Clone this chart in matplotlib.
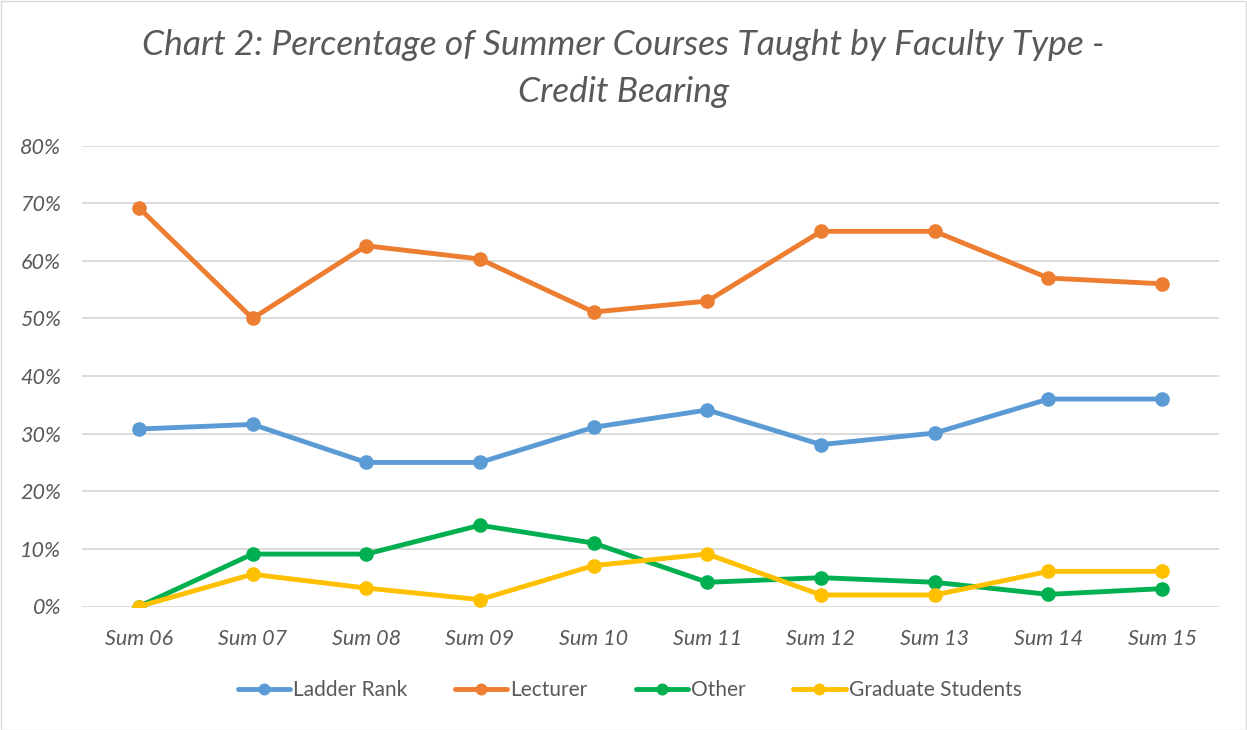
import matplotlib.pyplot as plt
from matplotlib.patches import Rectangle
from matplotlib.ticker import PercentFormatter

terms = ["Sum 06", "Sum 07", "Sum 08", "Sum 09", "Sum 10",
         "Sum 11", "Sum 12", "Sum 13", "Sum 14", "Sum 15"]
ladder_rank = [30.8, 31.6, 25.0, 25.0, 31.1, 34.1, 28.1, 30.1, 36.0, 36.0]
lecturer = [69.2, 50.0, 62.6, 60.3, 51.1, 53.0, 65.1, 65.1, 57.0, 56.0]
other = [0.0, 9.1, 9.1, 14.1, 11.0, 4.2, 5.0, 4.2, 2.1, 3.1]
grad_students = [0.0, 5.6, 3.2, 1.2, 7.1, 9.1, 2.0, 2.0, 6.1, 6.1]

series = [
    ("Ladder Rank", ladder_rank, "#5B9BD5"),
    ("Lecturer", lecturer, "#ED7D31"),
    ("Other", other, "#00B050"),
    ("Graduate Students", grad_students, "#FFC000"),
]

text_color = "#595959"
plt.rcParams["font.family"] = ["Lato", "DejaVu Sans"]

fig = plt.figure(figsize=(12.47, 7.30), dpi=100)
ax = fig.add_axes([82 / 1247, 1 - 606.5 / 730, (1219 - 82) / 1247, (606.5 - 145.5) / 730])

x = range(len(terms))
for name, values, color in series:
    ax.plot(x, [v / 100 for v in values], color=color, linewidth=3.5,
            marker="o", markersize=9.5, label=name, solid_capstyle="round")

ax.set_xlim(-0.5, len(terms) - 0.5)
ax.set_ylim(0, 0.8)
ax.set_yticks([i / 10 for i in range(9)])
ax.yaxis.set_major_formatter(PercentFormatter(1.0, decimals=0))
ax.set_xticks(list(x))
ax.set_xticklabels(terms)
ax.grid(axis="y", color="#D9D9D9", linewidth=1.3)
ax.set_axisbelow(True)
for spine in ax.spines.values():
    spine.set_visible(False)
ax.tick_params(length=0, labelsize=15.5, labelcolor=text_color)
ax.tick_params(axis="x", pad=16)
ax.tick_params(axis="y", pad=15)
for lab in ax.get_xticklabels() + ax.get_yticklabels():
    lab.set_fontstyle("italic")

fig.text(0.5, 1 - 45 / 730, "Chart 2: Percentage of Summer Courses Taught by Faculty Type -",
         ha="center", va="center", fontsize=25.5, style="italic", color=text_color)
fig.text(0.5, 1 - 92 / 730, "Credit Bearing",
         ha="center", va="center", fontsize=25.5, style="italic", color=text_color)

fig.legend(loc="center", bbox_to_anchor=(0.505, 1 - 690 / 730), ncol=4, frameon=False,
           fontsize=15, labelcolor=text_color, handlelength=2.5, handletextpad=0.15,
           columnspacing=2.3, markerscale=0.8)

fig.patches.append(Rectangle((0.5 / 1247, 0.5 / 730), 1 - 1.5 / 1247, 1 - 1.5 / 730,
                             transform=fig.transFigure, fill=False,
                             edgecolor="#D9D9D9", linewidth=1))

fig.savefig("out.png")
